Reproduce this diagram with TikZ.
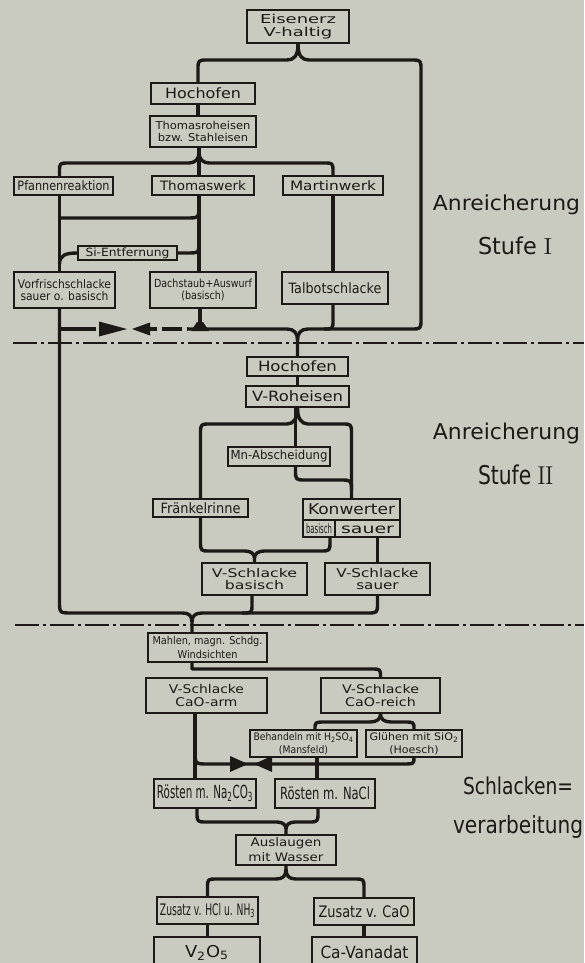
\documentclass[tikz,border=0pt]{standalone}
\usepackage{fontspec}
\usepackage{graphicx}
\newfontfamily\dinfont{DejaVu Sans}
\definecolor{bg}{RGB}{201,203,192}
\definecolor{ink}{RGB}{28,25,23}
\newcommand\bx[3]{\resizebox*{#1pt}{#2pt}{\shortstack{#3}}}
\newcommand\ph{\vphantom{A}}
\begin{document}
\begin{tikzpicture}[x=1pt,y=-1pt,
  box/.style={draw=ink, line width=1.3pt, inner sep=0pt, text=ink, font=\dinfont},
  dbox/.style={box, line width=2.3pt},
  conn/.style={draw=ink, line width=3.4pt, line join=round},
  dd/.style={draw=ink, line width=2pt, dash pattern=on 24pt off 4pt on 3pt off 4pt},
  lab/.style={text=ink, inner sep=0pt, font=\dinfont}]
\useasboundingbox (0,0) rectangle (584,963);
\fill[bg] (0,0) rectangle (584,963);
\clip (0,0) rectangle (584,963);

% ---------- Stufe I nodes
\node[dbox, minimum width=102pt, minimum height=33pt] (eis) at (298,26.5) {\bx{76}{25}{Eisenerz\\V-haltig}};
\node[box, minimum width=104pt, minimum height=21pt] (hoch1) at (203,93.5) {\bx{76}{11}{Hochofen}};
\node[dbox, minimum width=106pt, minimum height=31pt] (thomr) at (203,131.5) {\bx{95}{20}{Thomasroheisen\\bzw. Stahleisen}};
\node[box, minimum width=99pt, minimum height=18pt] (pfann) at (63.5,186) {\bx{92}{10}{Pfannenreaktion}};
\node[box, minimum width=102pt, minimum height=19pt] (thomw) at (203,185.5) {\bx{86}{10}{Thomaswerk}};
\node[box, minimum width=100pt, minimum height=19pt] (martin) at (333,185.5) {\bx{86}{10}{Martinwerk}};
\node[box, minimum width=99pt, minimum height=14pt] (sient) at (127.5,253) {\bx{84}{11}{Si-Entfernung}};
\node[dbox, minimum width=101pt, minimum height=36pt] (vorf) at (64.5,290) {\bx{93}{22}{Vorfrischschlacke\\sauer o. basisch}};
\node[dbox, minimum width=106pt, minimum height=36pt] (dach) at (203,290) {\bx{98}{22}{Dachstaub+Auswurf\\(basisch)}};
\node[dbox, minimum width=106pt, minimum height=32pt] (talbot) at (335,288) {\bx{93}{11}{Talbotschlacke}};

% ---------- Stufe II nodes
\node[box, minimum width=101pt, minimum height=19pt] (hoch2) at (297.5,366.5) {\bx{79}{11}{Hochofen}};
\node[dbox, minimum width=103pt, minimum height=21pt] (vroh) at (297.5,396.5) {\bx{91}{11}{V-Roheisen}};
\node[box, minimum width=102pt, minimum height=19pt] (mn) at (279,456.5) {\bx{97}{12}{Mn-Abscheidung}};
\node[box, minimum width=95pt, minimum height=18pt] (fraenk) at (200.5,508) {\bx{80}{11}{Fränkelrinne}};
\node[box, minimum width=97pt, minimum height=21pt] (konw) at (351.5,509.5) {\bx{87}{11}{Konwerter}};
\node[box, minimum width=32pt, minimum height=17pt] (konwb) at (319,528.5) {\bx{26}{10}{basisch}};
\node[box, minimum width=65pt, minimum height=17pt] (konws) at (367.5,528.5) {\bx{53}{10}{\ph sauer}};
\node[dbox, minimum width=105pt, minimum height=32pt] (vsb) at (254.5,579) {\bx{85}{22}{V-Schlacke\\basisch}};
\node[dbox, minimum width=105pt, minimum height=32pt] (vss) at (377.5,579) {\bx{82}{22}{V-Schlacke\\\ph sauer}};

% ---------- Schlackenverarbeitung nodes
\node[box, minimum width=119pt, minimum height=29pt] (mahl) at (207.5,647.5) {\bx{110}{22}{Mahlen, magn. Schdg.\\Windsichten}};
\node[dbox, minimum width=121pt, minimum height=35pt] (caoarm) at (206.5,695.5) {\bx{75}{22}{V-Schlacke\\CaO-arm}};
\node[dbox, minimum width=119pt, minimum height=35pt] (caoreich) at (380.5,695.5) {\bx{77}{22}{V-Schlacke\\CaO-reich}};
\node[box, minimum width=107pt, minimum height=27pt] (behand) at (303.5,743.5) {\bx{100}{22}{Behandeln mit H\textsubscript{2}SO\textsubscript{4}\\(Mansfeld)}};
\node[box, minimum width=96pt, minimum height=27pt] (glueh) at (414,743.5) {\bx{89}{22}{Glühen mit SiO\textsubscript{2}\\(Hoesch)}};
\node[box, minimum width=102pt, minimum height=29pt] (r1) at (205,793.5) {\bx{96}{17}{Rösten m. Na\textsubscript{2}CO\textsubscript{3}}};
\node[box, minimum width=100pt, minimum height=29pt] (r2) at (325,793.5) {\bx{90}{13}{Rösten m. NaCl}};
\node[box, minimum width=100pt, minimum height=30pt] (ausl) at (286,850) {\bx{75}{24}{Auslaugen\\mit Wasser}};
\node[box, minimum width=101pt, minimum height=27pt] (zhcl) at (207.5,910.5) {\bx{95}{15}{Zusatz v. HCl u. NH\textsubscript{3}}};
\node[box, minimum width=100pt, minimum height=27pt] (zcao) at (364,911.5) {\bx{91}{12}{Zusatz v. CaO}};
\node[dbox, minimum width=106pt, minimum height=31pt] (v2o5) at (207,952.5) {\bx{44}{15}{V\textsubscript{2}O\textsubscript{5}}};
\node[dbox, minimum width=105pt, minimum height=31pt] (cav) at (364.5,952.5) {\bx{88}{13}{Ca-Vanadat}};

% ---------- side labels
\node[lab] (anr1) at (506.5,205) {\bx{147}{20}{Anreicherung}};
\node[lab] (st1) at (515,246) {\bx{74}{18}{Stufe {\rmfamily I}}};
\node[lab] (anr2) at (506.5,434) {\bx{147}{21}{Anreicherung}};
\node[lab] (st2) at (515.5,475) {\bx{75}{20}{Stufe {\rmfamily II}}};
\node[lab] (sch) at (518,786) {\bx{110}{18}{Schlacken=}};
\node[lab] (verarb) at (518,826.5) {\bx{130}{23}{verarbeitung}};

% ---------- separators
\draw[dd] (13,343) -- (584,343);
\draw[dd] (15,625) -- (584,625);

% ---------- connectors Stufe I
\draw[conn] ([xshift=-5pt]hoch1.north) -- (198,70) .. controls (198,60) .. (208,60) -- (287,60) .. controls (294,60) and (298,56) .. (eis.south);
\draw[conn] (eis.south) .. controls (298,56) and (302,60) .. (309,60) -- (411,60) .. controls (421,60) .. (421,70) -- (421,319) .. controls (421,329) .. (411,329) -- (308,329) .. controls (301,329) and (297.5,333) .. (297.5,340) -- (hoch2.north);
\coordinate (vj) at (59.5,329);
\coordinate (dj) at (187,329);
\draw[conn] (dj) -- (287,329) .. controls (294,329) and (297.5,333) .. (297.5,340);
\draw[conn, dash pattern=on 36pt off 52pt on 9pt off 5pt on 20pt off 5pt] (vj) -- (dj);
\fill[ink] (99,321.5) -- (127,329) -- (99,336.5) -- cycle;
\fill[ink] (150,322.5) -- (132,329) -- (150,335.5) -- cycle;

\draw[conn] ([xshift=-5pt]hoch1.south) -- ([xshift=-5pt]thomr.north);
\draw[conn] ([xshift=-4pt]pfann.north) -- (59.5,172) .. controls (59.5,163) .. (69,163) -- (189,163) .. controls (195,163) and (199,159) .. (199,153) -- ([xshift=-4pt]thomr.south);
\draw[conn] (199,153) .. controls (199,159) and (203,163) .. (209,163) -- (324,163) .. controls (333,163) .. (333,172) -- (martin.north);
\draw[conn] ([xshift=-4pt]thomr.south) -- ([xshift=-4pt]thomw.north);
\draw[conn] ([xshift=-4pt]thomw.south) -- ([xshift=-4pt]dach.north);
\draw[conn] (199,205) .. controls (199,218) .. (186,218) -- (59.5,218);
\draw[conn] (59.5,264) .. controls (59.5,255) and (66,253) .. (sient.west);
\draw[conn] (sient.east) -- (187,253) .. controls (199,253) .. (199,241);
\draw[conn] ([xshift=-4pt]pfann.south) -- ([xshift=-5pt]vorf.north);
\draw[conn] (martin.south) -- (martin.south |- talbot.north);
\draw[conn] ([xshift=-2pt]talbot.south) -- (333,320) .. controls (333,329) .. (324,329);
\draw[conn] ([xshift=-3pt]dach.south) -- (200,329);
\fill[ink] (191,331) -- (209,331) -- (203,322) -- (197,322) -- cycle;
\draw[conn] ([xshift=-5pt]vorf.south) -- (59.5,601) .. controls (59.5,613) .. (72,613) -- (183,613) .. controls (189,613) and (192,616) .. (192,622) -- ([xshift=-15.5pt]mahl.north);

% ---------- connectors Stufe II
\draw[conn] (hoch2.south) -- (vroh.north);
\draw[conn] (vroh.south) .. controls (297.5,418) and (294,424) .. (287,424) -- (210,424) .. controls (200.5,424) .. (200.5,434) -- (fraenk.north);
\draw[conn] (vroh.south) .. controls (297.5,418) and (301,424) .. (308,424) -- (342,424) .. controls (351.5,424) .. (351.5,434) -- (konw.north);
\draw[conn] ([xshift=-2pt]vroh.south) -- ([xshift=16.5pt]mn.north);
\draw[conn] ([xshift=16.5pt]mn.south) -- (295.5,470) .. controls (295.5,480) .. (306,480) -- (340,480) .. controls (351.5,480) .. (351.5,491);
\draw[conn] (fraenk.south) -- (200.5,541) .. controls (200.5,551) .. (210,551) -- (245,551) .. controls (251,551) and (254.5,554) .. (254.5,558) -- (vsb.north);
\draw[conn] ([xshift=11pt]konwb.south) -- (330,541) .. controls (330,551) .. (320,551) -- (264,551) .. controls (258,551) and (254.5,554) .. (254.5,558);
\draw[conn] ([xshift=10pt]konws.south) -- (vss.north);
\draw[conn] (vss.south) -- (377.5,603) .. controls (377.5,613) .. (367,613) -- (202,613) .. controls (195,613) and (192,616) .. (192,622);
\draw[conn] ([xshift=-2.5pt]vsb.south) -- (252,604) .. controls (252,613) .. (242,613);

% ---------- connectors Schlackenverarbeitung
\draw[conn] ([xshift=-15.5pt]mahl.south) -- (192,669) -- (371,669) .. controls (380.5,669) .. (caoreich.north);
\draw[conn] ([xshift=-11.5pt]caoarm.south) -- ([xshift=-10pt]r1.north);
\draw[conn] (195,750) .. controls (195,764) .. (208,764) -- (402,764) .. controls (414,764) .. (glueh.south);
\fill[ink] (230,756) -- (248,764) -- (230,772) -- cycle;
\fill[ink] (272,756) -- (254,764) -- (272,772) -- cycle;
\draw[conn] ([xshift=13.5pt]behand.south) -- ([xshift=-8pt]r2.north);
\draw[conn] (caoreich.south) .. controls (380.5,719) and (377,722) .. (370,722) -- (325,722) .. controls (315,722) .. ([xshift=11.5pt]behand.north);
\draw[conn] (caoreich.south) .. controls (380.5,719) and (384,722) .. (391,722) -- (404,722) .. controls (414,722) .. (glueh.north);
\draw[conn] ([xshift=-8pt]r1.south) -- (197,812) .. controls (197,822) .. (207,822) -- (277,822) .. controls (283,822) and (286,825) .. (286,829) -- (ausl.north);
\draw[conn] ([xshift=-7pt]r2.south) -- (318,812) .. controls (318,822) .. (308,822) -- (295,822) .. controls (289,822) and (286,825) .. (286,829);
\draw[conn] (ausl.south) -- (286,869) .. controls (286,876) and (283,879) .. (276,879) -- (217,879) .. controls (207.5,879) .. (207.5,888) -- (zhcl.north);
\draw[conn] (286,869) .. controls (286,876) and (289,879) .. (296,879) -- (354,879) .. controls (364,879) .. (364,888) -- (zcao.north);
\draw[conn] (zhcl.south) -- (zhcl.south |- v2o5.north);
\draw[conn] (zcao.south) -- (zcao.south |- cav.north);
\end{tikzpicture}
\end{document}
